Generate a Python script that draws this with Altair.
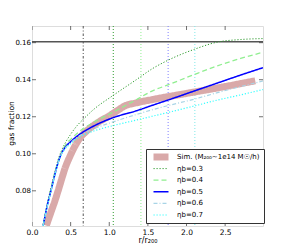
import altair as alt
import pandas as pd

# ---------------- data ----------------
labels = ["Sim. (M₂₀₀~1e14 M☉/h)", "ηb=0.3", "ηb=0.4", "ηb=0.5", "ηb=0.6", "ηb=0.7"]

r_sim = [0.185, 0.25, 0.30, 0.338, 0.38, 0.43, 0.49, 0.56, 0.63, 0.70, 0.85, 1.00, 1.10, 1.20, 1.35, 1.56,
         2.00, 2.50, 2.89]
f_sim = [0.0612, 0.0690, 0.0750, 0.0800, 0.0858, 0.0925, 0.0985, 0.1045, 0.1090, 0.1120, 0.1168, 0.1205,
         0.1232, 0.1258, 0.1275, 0.1293, 0.1326, 0.1363, 0.1394]

r_mod = [0.145, 0.2, 0.245, 0.3, 0.34, 0.38, 0.43, 0.5, 0.59, 0.66, 0.8, 1.05, 1.35, 1.56, 1.76, 2.1, 2.4,
         2.7, 2.99]
f_eta03 = [0.0618, 0.0735, 0.0815, 0.0910, 0.0970, 0.1015, 0.1058, 0.1105, 0.1155, 0.1185, 0.1240, 0.1315,
           0.1400, 0.1460, 0.1505, 0.1564, 0.1603, 0.1617, 0.1622]
f_eta04 = [0.0615, 0.0730, 0.0810, 0.0905, 0.0963, 0.1008, 0.1045, 0.1078, 0.1112, 0.1135, 0.1170, 0.1225,
           0.1292, 0.1340, 0.1372, 0.1428, 0.1475, 0.1515, 0.1548]
f_eta05 = [0.0612, 0.0725, 0.0800, 0.0895, 0.0955, 0.1000, 0.1035, 0.1065, 0.1097, 0.1117, 0.1150, 0.1195,
           0.1232, 0.1262, 0.1290, 0.1339, 0.1382, 0.1425, 0.1465]
f_eta06 = [0.0612, 0.0722, 0.0798, 0.0893, 0.0953, 0.0998, 0.1031, 0.1060, 0.1090, 0.1108, 0.1135, 0.1172,
           0.1212, 0.1238, 0.1260, 0.1295, 0.1330, 0.1363, 0.1393]
f_eta07 = [0.0612, 0.0721, 0.0797, 0.0892, 0.0952, 0.0996, 0.1028, 0.1055, 0.1084, 0.1100, 0.1123, 0.1152,
           0.1182, 0.1203, 0.1223, 0.1258, 0.1290, 0.1318, 0.1347]

v_lines = [0.663, 1.052, 1.41, 1.762, 2.108]
f_cosmic = [0.1605]

x_ticks = [0.0, 0.5, 1.0, 1.5, 2.0, 2.5]
y_ticks = [0.08, 0.10, 0.12, 0.14, 0.16]
X_DOM = [0.0, 2.99]
Y_DOM = [0.061, 0.169]

# ---------------- styles ----------------
colors = ["#d9a9a9", "#2e9b2e", "#90ee90", "#0000ff", "#a8d4e6", "#33ffff"]
dashes = [[1, 0], [1.2, 1.8], [5, 3], [1, 0], [4, 2, 1, 2], [1.2, 1.8]]
widths = [7, 1, 1.3, 1.5, 1.2, 1.2]
v_colors = ["#555555", "#2e9b2e", "#90ee90", "#8080ff", "#7fe8e8"]
v_dashes = [[2.5, 2, 1, 2], [1, 2], [1, 2], [1, 2], [1, 2]]

rows = [{"series": labels[0], "r": r, "f": f} for r, f in zip(r_sim, f_sim)]
for lab, fs in zip(labels[1:], [f_eta03, f_eta04, f_eta05, f_eta06, f_eta07]):
    rows += [{"series": lab, "r": r, "f": f} for r, f in zip(r_mod, fs)]
df = pd.DataFrame(rows)

xs = alt.Scale(domain=X_DOM, nice=False, zero=False)
ys = alt.Scale(domain=Y_DOM, nice=False, zero=False)

leg = alt.Legend(title=None, orient="none", legendX=114, legendY=123, fillColor="white",
                 strokeColor="#333333", padding=4, labelFont="DejaVu Sans", labelFontSize=7,
                 labelColor="black", symbolType="stroke", symbolSize=225, labelOffset=5,
                 rowPadding=3.6, clipHeight=8, labelLimit=0, cornerRadius=0)

x_axis = alt.Axis(title="r/r₂₀₀", values=x_ticks, format=".1f", ticks=False, domain=False, grid=False,
                  labelFontSize=7.5, labelPadding=2, titleFontSize=8, titlePadding=1,
                  titleFontWeight="normal", labelFlush=False, labelColor="black", titleColor="black")
y_axis = alt.Axis(title="gas fraction", values=y_ticks, format=".2f", ticks=False, domain=False, grid=False,
                  labelFontSize=7, labelPadding=1.5, titleFontSize=7.5, titleFontWeight="normal",
                  titleX=-17, titleY=97, titleAngle=270, titleAlign="center", titleBaseline="bottom",
                  labelColor="black", titleColor="black")

enc = dict(
    x=alt.X("r:Q", scale=xs, axis=x_axis),
    y=alt.Y("f:Q", scale=ys, axis=y_axis),
    color=alt.Color("series:N", scale=alt.Scale(domain=labels, range=colors), legend=leg),
    strokeDash=alt.StrokeDash("series:N", scale=alt.Scale(domain=labels, range=dashes), legend=leg),
    strokeWidth=alt.StrokeWidth("series:N", scale=alt.Scale(type="ordinal", domain=labels, range=widths),
                                legend=leg),
)

layers = []
for vx, vc, vd in zip(v_lines, v_colors, v_dashes):
    layers.append(alt.Chart(pd.DataFrame({"x": [vx]})).mark_rule(color=vc, strokeDash=vd, strokeWidth=1)
                  .encode(x=alt.X("x:Q", scale=xs)))

layers.append(alt.Chart(pd.DataFrame({"y": f_cosmic})).mark_rule(color="#555555", strokeWidth=1.3)
              .encode(y=alt.Y("y:Q", scale=ys)))

band = alt.Chart(df[df.series == labels[0]]).mark_line(clip=True, interpolate="monotone",
                                                       strokeCap="butt").encode(**enc)
lines = alt.Chart(df[df.series != labels[0]]).mark_line(clip=True, interpolate="monotone").encode(**enc)
layers += [band, lines]

xt = pd.DataFrame({"t": x_ticks})
yt = pd.DataFrame({"t": y_ticks})
for yv in Y_DOM:
    layers.append(alt.Chart(xt).mark_tick(orient="vertical", size=8, thickness=1, clip=True, color="#333333")
                  .encode(x=alt.X("t:Q", scale=xs), y=alt.datum(yv, scale=ys)))
for xv in X_DOM:
    layers.append(alt.Chart(yt).mark_tick(orient="horizontal", size=8, thickness=1, clip=True, color="#333333")
                  .encode(y=alt.Y("t:Q", scale=ys), x=alt.datum(xv, scale=xs)))

chart = alt.layer(*layers).properties(
    width=231, height=200,
    autosize=alt.AutoSizeParams(type="none"),
    padding={"left": 24, "top": 18, "right": 10, "bottom": 22},
).configure_view(stroke="#333333", strokeWidth=1).configure(font="DejaVu Sans")

chart.save("out.html", embed_options={"renderer": "svg", "actions": False})
